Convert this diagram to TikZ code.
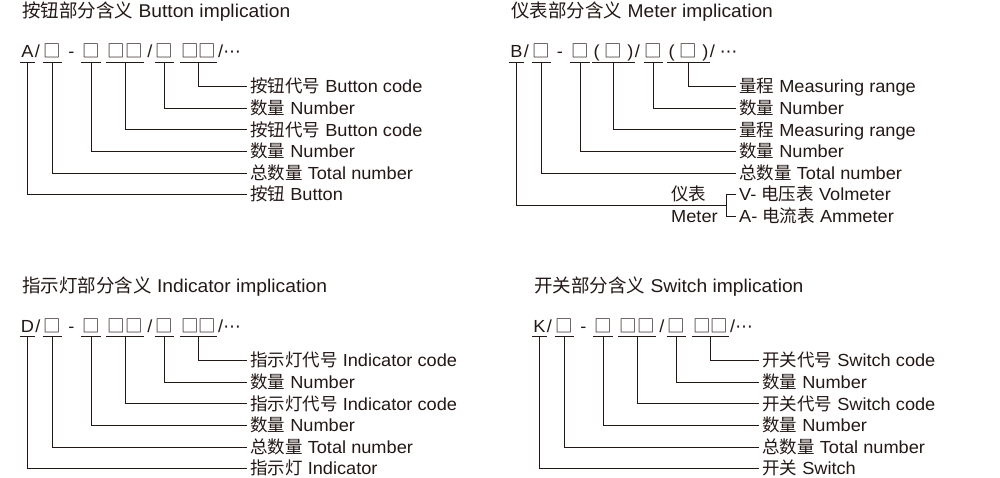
\documentclass[tikz,border=0pt]{standalone}
\usepackage{fontspec}
\setmainfont[FakeStretch=1.04]{Liberation Sans}
\newfontfamily\cjk{Noto Sans CJK SC}
\newfontfamily\symb{DejaVu Sans}
\usetikzlibrary{calc}
\definecolor{ink}{RGB}{35,24,21}
\newcommand{\zh}[1]{{\cjk #1}}
\newcommand{\sq}{\zh{□}}
\newcommand{\mdots}{{\symb ⋯}}
\tikzset{
  title/.style={inner sep=0pt, anchor=base west, font=\fontsize{18.5}{22}\selectfont},
  code/.style={inner xsep=1pt, inner ysep=0pt, text height=12pt, text depth=4pt, anchor=base},
  part/.style={inner sep=0pt, anchor=base},
  lbl/.style={anchor=west, inner xsep=3pt, inner ysep=0pt, text height=12.5pt, text depth=0pt},
  wire/.style={draw=ink, line width=1pt},
}
% #1 prefix, #2 chinese name, #3 english name, #4 letter
\newcommand{\codepanel}[4]{%
  \node[title] (#1title) at (22,18) {\zh{#2部分含义} #3 implication};
  \node[code] (#1c0) at (27.5,58) {#4};
  \node[part,anchor=base west] (#1s0) at (#1c0.base east) {/};
  \node[code] (#1c1) at (52.5,58) {\sq};
  \node[part] (#1d1) at (71.5,58) {-};
  \node[code] (#1c2) at (91,58) {\sq};
  \node[code] (#1c3) at (125,58) {\sq\sq};
  \node[part] (#1s1) at (150,58) {/};
  \node[code] (#1c4) at (164.5,58) {\sq};
  \node[code] (#1c5) at (198.5,58) {\sq\sq};
  \node[part,anchor=base west] (#1s2) at (218,58) {/\mdots};
  \node[lbl] (#1l5) at (247,86.7) {\zh{#2代号} #3 code};
  \node[lbl] (#1l4) at (247,108.3) {\zh{数量} Number};
  \node[lbl] (#1l3) at (247,129.9) {\zh{#2代号} #3 code};
  \node[lbl] (#1l2) at (247,151.5) {\zh{数量} Number};
  \node[lbl] (#1l1) at (247,173.1) {\zh{总数量} Total number};
  \node[lbl] (#1l0) at (247,194.7) {\zh{#2} #3};
  \draw[wire] (#1c0.south west) -- (#1c0.south east) (#1c0.south) |- (#1l0.west);
  \draw[wire] (#1c1.south west) -- (#1c1.south east) (#1c1.south) |- (#1l1.west);
  \draw[wire] (#1c2.south west) -- (#1c2.south east) (#1c2.south) |- (#1l2.west);
  \draw[wire] (#1c3.south west) -- (#1c3.south east) (#1c3.south) |- (#1l3.west);
  \draw[wire] (#1c4.south west) -- (#1c4.south east) (#1c4.south) |- (#1l4.west);
  \draw[wire] (#1c5.south west) -- (#1c5.south east) (#1c5.south) |- (#1l5.west);
}

\begin{document}
\begin{tikzpicture}[x=1pt, y=-1pt, font=\fontsize{17.5}{21}\selectfont, text=ink]
\useasboundingbox (0,0) rectangle (1000,478);

\codepanel{a}{按钮}{Button}{A}

\begin{scope}[shift={(489,0)}]
  \node[title] (mtitle) at (22,18) {\zh{仪表部分含义} Meter implication};
  \node[code] (mc0) at (27.5,58) {B};
  \node[part,anchor=base west] (ms0) at (mc0.base east) {/};
  \node[code] (mc1) at (52.5,58) {\sq};
  \node[part] (md1) at (71,58) {-};
  \node[code] (mc2) at (91,58) {\sq};
  \node[code] (mc3) at (124.5,58) {( \sq\ )};
  \node[part,anchor=base west] (ms1) at (mc3.base east) {/};
  \node[code] (mc4) at (164.5,58) {\sq};
  \node[code] (mc5) at (199.5,58) {( \sq\ )};
  \node[part,anchor=base west] (ms2) at (mc5.base east) {/ \mdots};
  \node[lbl] (ml5) at (247,86.7) {\zh{量程} Measuring range};
  \node[lbl] (ml4) at (247,108.3) {\zh{数量} Number};
  \node[lbl] (ml3) at (247,129.9) {\zh{量程} Measuring range};
  \node[lbl] (ml2) at (247,151.5) {\zh{数量} Number};
  \node[lbl] (ml1) at (247,173.1) {\zh{总数量} Total number};
  \node[lbl] (volt) at (247,194.7) {V- \zh{电压表} Volmeter};
  \node[lbl] (amm) at (247,216.3) {A- \zh{电流表} Ammeter};
  \node[lbl] (mtr1) at (179,194.7) {\zh{仪表}};
  \node[lbl] (mtr2) at (179,216.3) {Meter};
  \coordinate (brk) at (237,205.5);
  \draw[wire] (mc0.south west) -- (mc0.south east) (mc0.south) |- (brk);
  \draw[wire] (volt.west) -| (brk) |- (amm.west);
  \draw[wire] (mc1.south west) -- (mc1.south east) (mc1.south) |- (ml1.west);
  \draw[wire] (mc2.south west) -- (mc2.south east) (mc2.south) |- (ml2.west);
  \draw[wire] (mc3.south west) -- (mc3.south east) (mc3.south) |- (ml3.west);
  \draw[wire] (mc4.south west) -- (mc4.south east) (mc4.south) |- (ml4.west);
  \draw[wire] (mc5.south west) -- (mc5.south east) (mc5.south) |- (ml5.west);
\end{scope}

\begin{scope}[shift={(0,274)}]
  \codepanel{d}{指示灯}{Indicator}{D}
\end{scope}

\begin{scope}[shift={(512,274)}]
  \codepanel{k}{开关}{Switch}{K}
\end{scope}
\end{tikzpicture}
\end{document}
